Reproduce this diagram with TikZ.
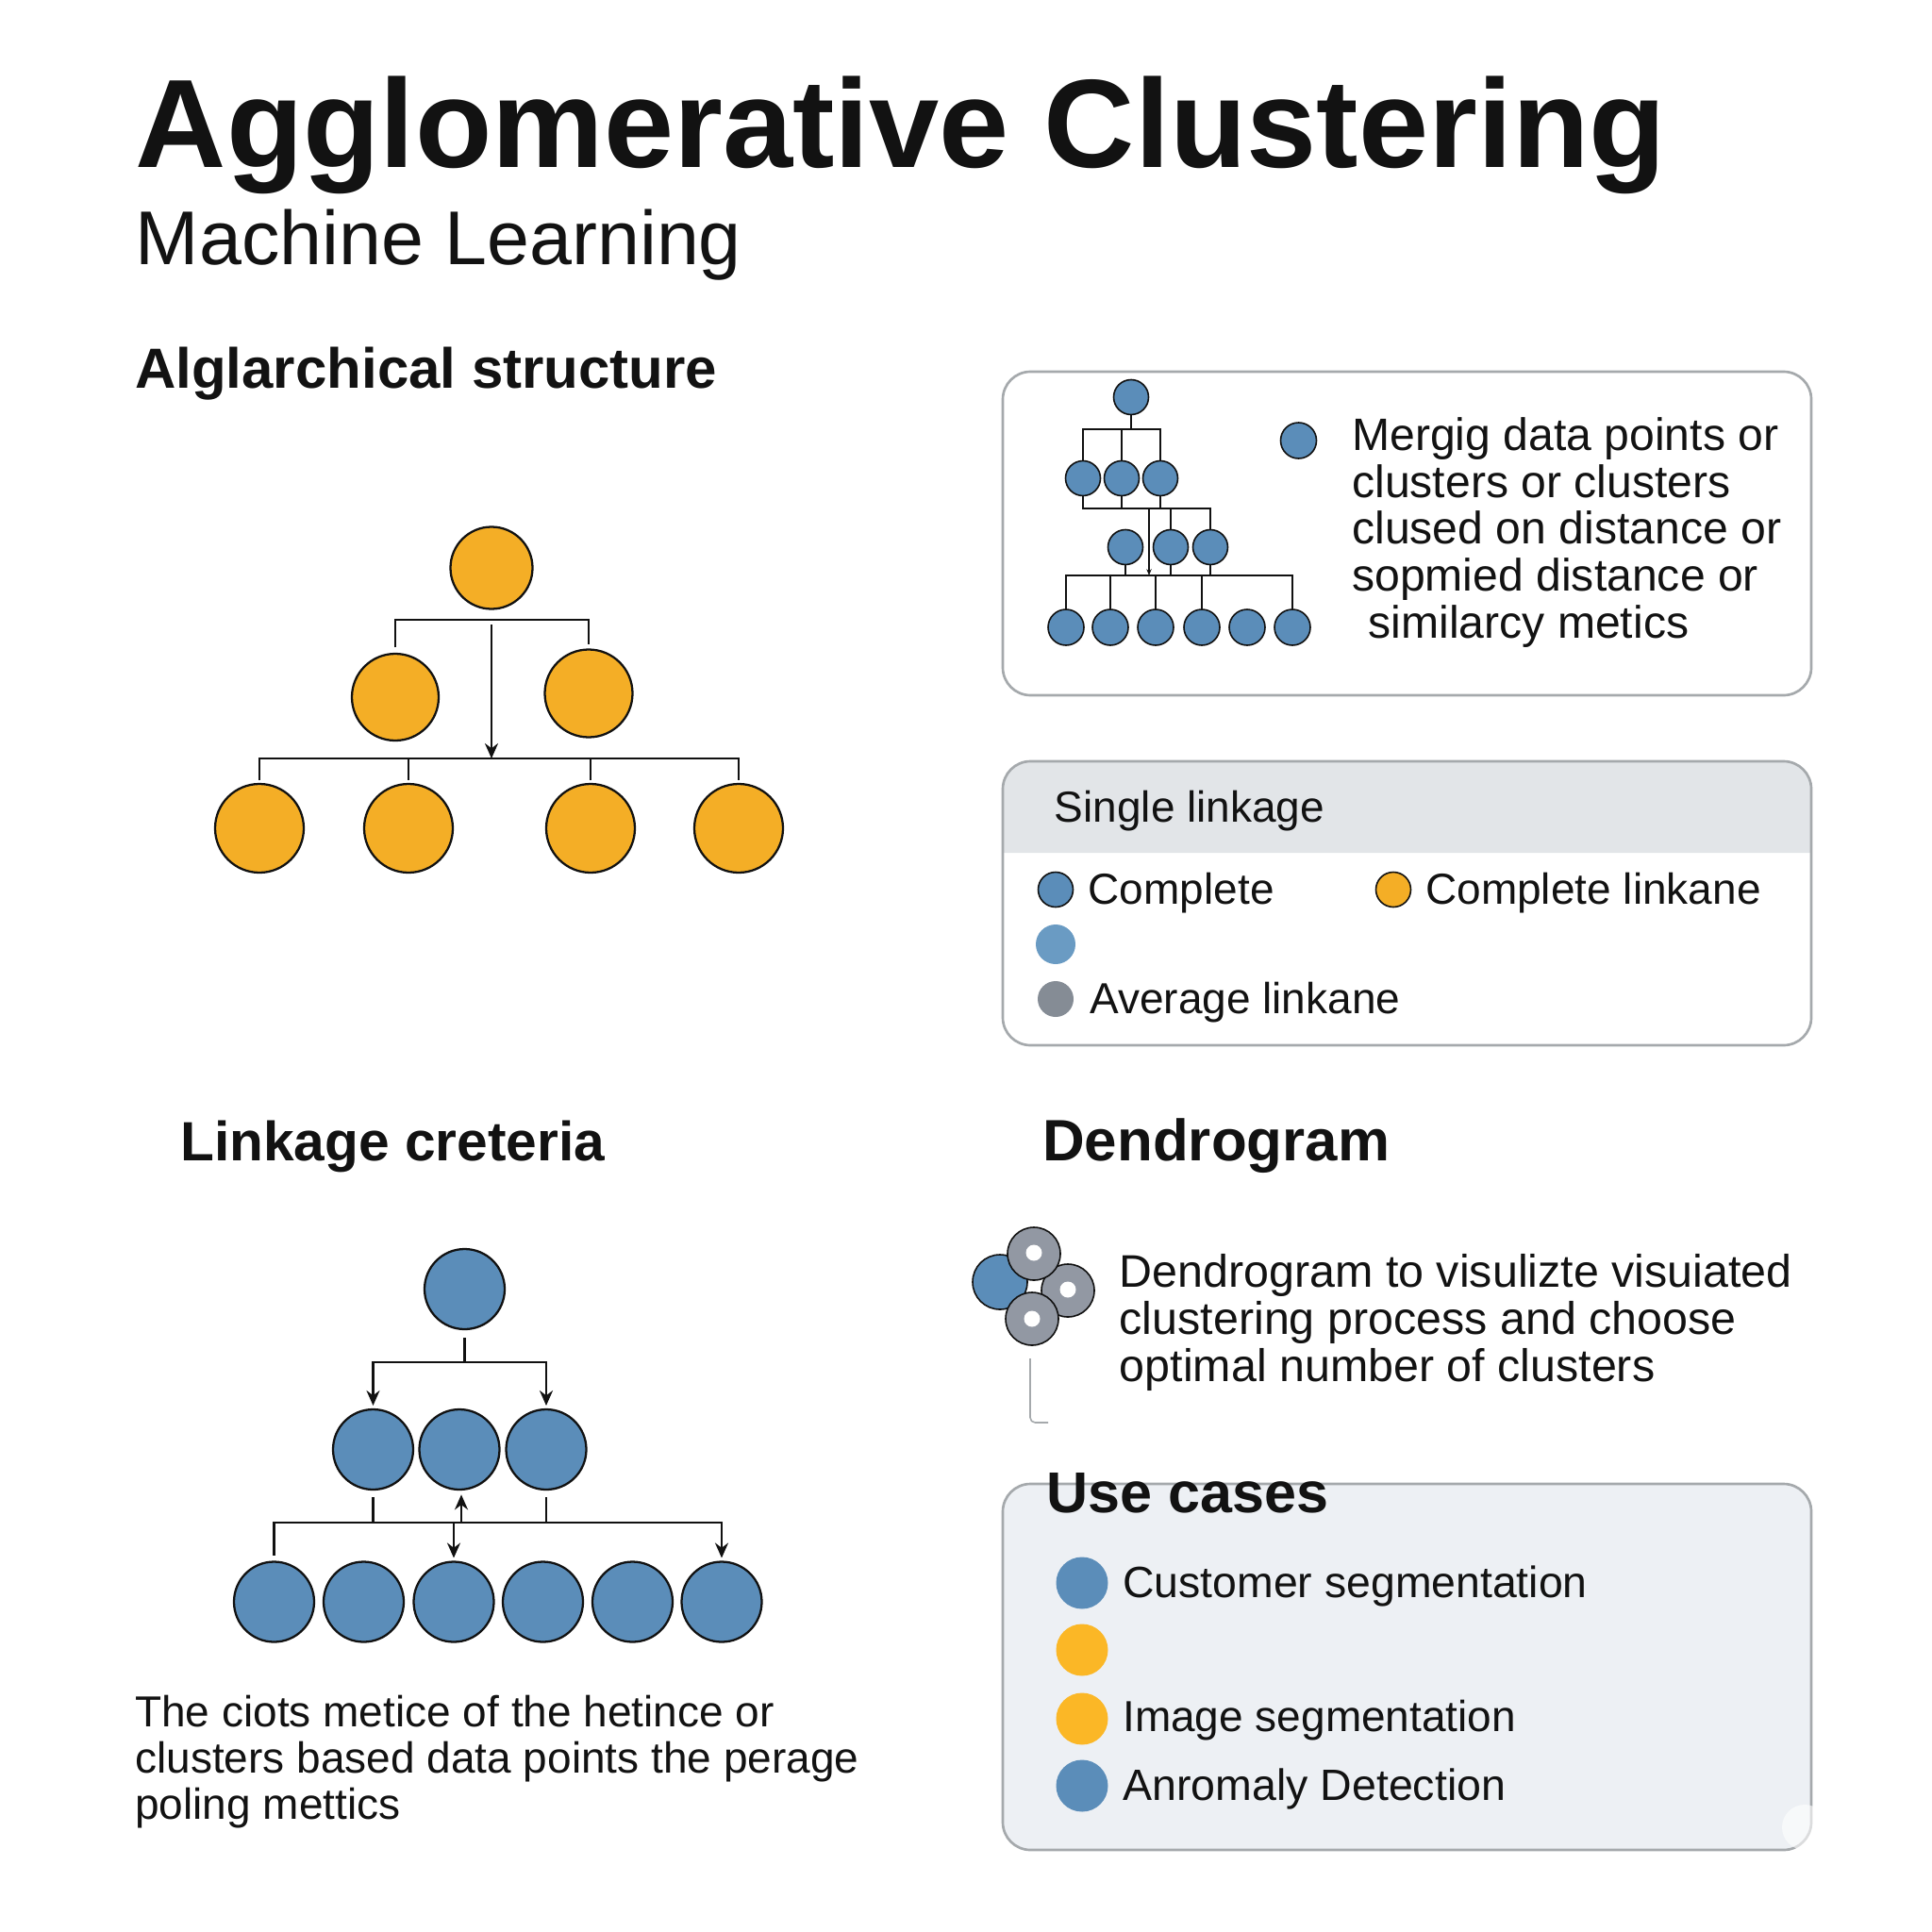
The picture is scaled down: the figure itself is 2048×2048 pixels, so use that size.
\documentclass[tikz,border=0pt]{standalone}
\usepackage{fontspec}
\usepackage{tikz}
\usetikzlibrary{arrows.meta}
\setmainfont{Liberation Sans}
\definecolor{inkline}{RGB}{17,17,17}
\definecolor{textblack}{RGB}{18,18,18}
\definecolor{dotblue}{RGB}{91,141,185}
\definecolor{softblue}{RGB}{106,155,195}
\definecolor{dotorange}{RGB}{244,174,38}
\definecolor{brightorange}{RGB}{251,183,38}
\definecolor{dotgrey}{RGB}{133,140,149}
\definecolor{discgrey}{RGB}{146,152,163}
\definecolor{panelline}{RGB}{165,169,172}
\definecolor{bandfill}{RGB}{226,229,232}
\definecolor{usefill}{RGB}{237,240,244}
\tikzset{
  dot/.style={circle,draw=inkline,line width=1.7pt,inner sep=0pt,outer sep=0pt,minimum size=#1*0.75pt},
  smalldot/.style={circle,draw=inkline,line width=1.2pt,inner sep=0pt,outer sep=0pt,minimum size=#1*0.75pt},
  flatdot/.style={circle,inner sep=0pt,outer sep=0pt,minimum size=#1*0.75pt},
  wire/.style={draw=inkline,line width=1.8pt},
  thinwire/.style={draw=inkline,line width=1.1pt},
  arrowwire/.style={wire,-{Stealth[length=12pt,width=10.5pt]}},
  panel/.style={draw=panelline,line width=2pt,rounded corners=22pt},
  bodytext/.style={anchor=base west,inner sep=0pt,text=textblack,font=\fontsize{34.5}{37}\selectfont},
  headtext/.style={anchor=base west,inner sep=0pt,text=textblack,font=\fontsize{45}{50}\selectfont\bfseries}
}
\begin{document}
\begin{tikzpicture}[x=0.75pt,y=0.75pt,yscale=-1,xscale=1]
\useasboundingbox (0,0) rectangle (2048,2048);

% Titles
\node (title) [headtext,font=\fontsize{100}{110}\selectfont\bfseries] at (143.5,178) {Agglomerative Clustering};
\node (subtitle) [bodytext,font=\fontsize{60.6}{66}\selectfont] at (143.5,280.5) {Machine Learning};
\node (headhier) [headtext] at (143,411) {Alglarchical structure};
\node (headlink) [headtext,font=\fontsize{44}{50}\selectfont\bfseries] at (191,1230.5) {Linkage creteria};
\node (headdend) [headtext,font=\fontsize{46.4}{50}\selectfont\bfseries] at (1105,1230.5) {Dendrogram};

% Panels
\draw [panel,fill=white] (1063,394) rectangle (1920,737);
\fill [bandfill] (1063,904) [rounded corners=22pt] -- (1063,807) -- (1920,807) -- (1920,860) [sharp corners] -- (1920,904) -- cycle;
\draw [panel] (1063,807) rectangle (1920,1108);
\draw [panel,fill=usefill] (1063,1573) rectangle (1920,1961);
\fill [white,opacity=0.6] (1913,1937) circle [radius=18pt];

% Orange tree
\node (orroot) [dot=87,fill=dotorange] at (521,602) {};
\node (ormida) [dot=92,fill=dotorange] at (419,739) {};
\node (ormidb) [dot=93,fill=dotorange] at (624,735) {};
\node (orlowa) [dot=94,fill=dotorange] at (275,878) {};
\node (orlowb) [dot=94,fill=dotorange] at (433,878) {};
\node (orlowc) [dot=94,fill=dotorange] at (626,878) {};
\node (orlowd) [dot=94,fill=dotorange] at (783,878) {};
\coordinate (orbar) at (521,657);
\coordinate (orstart) at (521,662);
\coordinate (orjoin) at (521,804);
\draw [wire,shorten <=5pt,shorten >=4pt] (ormida.north) |- (orbar) -| (ormidb.north);
\draw [arrowwire] (orstart) -- (orjoin);
\draw [wire,shorten <=3pt,shorten >=3pt] (orlowa.north) |- (orjoin) -| (orlowd.north);
\draw [wire,shorten <=3pt] (orlowb.north) -- (orlowb.north |- orjoin);
\draw [wire,shorten <=3pt] (orlowc.north) -- (orlowc.north |- orjoin);

% Blue tree
\node (blroot) [dot=85,fill=dotblue] at (492.5,1366.5) {};
\node (blmida) [dot=85,fill=dotblue] at (395.5,1536.5) {};
\node (blmidb) [dot=85,fill=dotblue] at (487,1536.5) {};
\node (blmidc) [dot=85,fill=dotblue] at (579,1536.5) {};
\node (bllowa) [dot=85,fill=dotblue] at (290.5,1698) {};
\node (bllowb) [dot=85,fill=dotblue] at (385.5,1698) {};
\node (bllowc) [dot=85,fill=dotblue] at (481,1698) {};
\node (bllowd) [dot=85,fill=dotblue] at (575.5,1698) {};
\node (bllowe) [dot=85,fill=dotblue] at (670.5,1698) {};
\node (bllowf) [dot=85,fill=dotblue] at (765,1698) {};
\coordinate (blbar) at (492.5,1444);
\coordinate (bljoin) at (489,1614);
\coordinate (bldown) at (481,1614);
\draw [wire,shorten <=7pt] (blroot.south) -- (blbar);
\draw [arrowwire,shorten >=3pt] (blbar) -| (blmida.north);
\draw [arrowwire,shorten >=3pt] (blbar) -| (blmidc.north);
\draw [wire,shorten <=6pt] (blmida.south) -- (blmida.south |- bljoin);
\draw [wire,shorten <=6pt] (blmidc.south) -- (blmidc.south |- bljoin);
\draw [arrowwire,shorten >=4pt] (bljoin) -- (blmidb.south -| bljoin);
\draw [wire,shorten <=5pt] (bllowa.north) |- (bljoin);
\draw [arrowwire,shorten >=3pt] (bljoin) -| (bllowf.north);
\draw [arrowwire,shorten >=3pt] (bldown) -- (bllowc.north);
\node (bltext) [anchor=north west,align=left,inner sep=0pt,text=textblack,font=\fontsize{34.5}{36.75}\selectfont] at (143,1797) {The ciots metice of the hetince or\\clusters based data points the perage\\poling mettics};

% Small tree in top panel
\node (smroot) [smalldot=37,fill=dotblue] at (1199,421) {};
\node (smmida) [smalldot=37,fill=dotblue] at (1148,507) {};
\node (smmidb) [smalldot=37,fill=dotblue] at (1189,507) {};
\node (smmidc) [smalldot=37,fill=dotblue] at (1230,507) {};
\node (smnexa) [smalldot=37,fill=dotblue] at (1193,580) {};
\node (smnexb) [smalldot=37,fill=dotblue] at (1241,580) {};
\node (smnexc) [smalldot=37,fill=dotblue] at (1283,580) {};
\node (smlowa) [smalldot=38,fill=dotblue] at (1130,665) {};
\node (smlowb) [smalldot=38,fill=dotblue] at (1177,665) {};
\node (smlowc) [smalldot=38,fill=dotblue] at (1225,665) {};
\node (smlowd) [smalldot=38,fill=dotblue] at (1274,665) {};
\node (smlowe) [smalldot=38,fill=dotblue] at (1322,665) {};
\node (smlowf) [smalldot=38,fill=dotblue] at (1370,665) {};
\coordinate (smbara) at (1199,455);
\coordinate (smbarb) at (1218,539);
\coordinate (smbarc) at (1218,610);
\draw [thinwire] (smroot.south) -- (smbara);
\draw [thinwire] (smmida.north) |- (smbara) -| (smmidc.north);
\draw [thinwire] (smmidb.north) -- (smmidb.north |- smbara);
\draw [thinwire] (smmida.south) |- (smbarb) -| (smnexc.north);
\draw [thinwire] (smmidb.south) -- (smmidb.south |- smbarb);
\draw [thinwire] (smmidc.south) -- (smmidc.south |- smbarb);
\draw [thinwire] (smnexb.north) -- (smnexb.north |- smbarb);
\draw [thinwire,-{Stealth[length=5pt,width=4pt]}] (smbarb) -- (smbarc);
\draw [thinwire] (smnexa.south) -- (smnexa.south |- smbarc);
\draw [thinwire] (smnexb.south) -- (smnexb.south |- smbarc);
\draw [thinwire] (smnexc.south) -- (smnexc.south |- smbarc);
\draw [thinwire] (smlowa.north) |- (smbarc) -| (smlowf.north);
\draw [thinwire] (smlowb.north) -- (smlowb.north |- smbarc);
\draw [thinwire] (smlowc.north) -- (smlowc.north |- smbarc);
\draw [thinwire] (smlowd.north) -- (smlowd.north |- smbarc);
\node (smkey) [smalldot=38,fill=dotblue] at (1376.5,467) {};
\node (smtext) [anchor=north west,align=left,inner sep=0pt,text=textblack,font=\fontsize{36.1}{37.2}\selectfont] at (1433,442.5) {Mergig data points or\\clusters or clusters\\clused on distance or\\sopmied distance or\\\hspace*{13pt}similarcy metics};

% Linkage panel
\node (sgltext) [bodytext] at (1117.5,871.5) {Single linkage};
\node (cpdot) [smalldot=37,fill=dotblue] at (1119,943) {};
\node (cptext) [bodytext] at (1153.5,958) {Complete};
\node (cldot) [smalldot=37,fill=dotorange] at (1477,943) {};
\node (cltext) [bodytext] at (1511,958) {Complete linkane};
\node (lbdot) [flatdot=42,fill=softblue] at (1119,1001) {};
\node (avdot) [flatdot=38,fill=dotgrey] at (1119,1059) {};
\node (avtext) [bodytext] at (1155,1074.5) {Average linkane};

% Dendrogram icon
\node (dnblue) [smalldot=58,fill=dotblue] at (1060,1359) {};
\node (dnright) [smalldot=56,fill=discgrey] at (1132,1368) {};
\node (dntop) [smalldot=56,fill=discgrey] at (1096,1329) {};
\node (dnbottom) [smalldot=56,fill=discgrey] at (1094,1398) {};
\node (dnholea) [flatdot=17,fill=white] at (1096,1328) {};
\node (dnholeb) [flatdot=17,fill=white] at (1132,1367) {};
\node (dnholec) [flatdot=17,fill=white] at (1094,1398) {};
\coordinate (hooktop) at (1092,1440);
\coordinate (hookend) at (1111,1508);
\draw [panelline,line width=1.2pt,rounded corners=4pt] (hooktop) |- (hookend);
\node (dntext) [anchor=north west,align=left,inner sep=0pt,text=textblack,font=\fontsize{36.3}{37.5}\selectfont] at (1186.5,1329.5) {Dendrogram to visulizte visuiated\\clustering process and choose\\optimal number of clusters};

% Use cases panel
\node (headuse) [headtext,font=\fontsize{45.8}{50}\selectfont\bfseries] at (1109,1603) {Use cases};
\node (usea) [flatdot=55,fill=dotblue] at (1147,1678) {};
\node (useb) [flatdot=55,fill=brightorange] at (1147,1749) {};
\node (usec) [flatdot=55,fill=brightorange] at (1147,1822) {};
\node (used) [flatdot=55,fill=dotblue] at (1147,1893) {};
\node (usetexta) [bodytext,font=\fontsize{34.8}{37}\selectfont] at (1190,1693) {Customer segmentation};
\node (usetextc) [bodytext] at (1190,1835) {Image segmentation};
\node (usetextd) [bodytext,font=\fontsize{34.9}{37}\selectfont] at (1190,1908) {Anromaly Detection};

\end{tikzpicture}
\end{document}
